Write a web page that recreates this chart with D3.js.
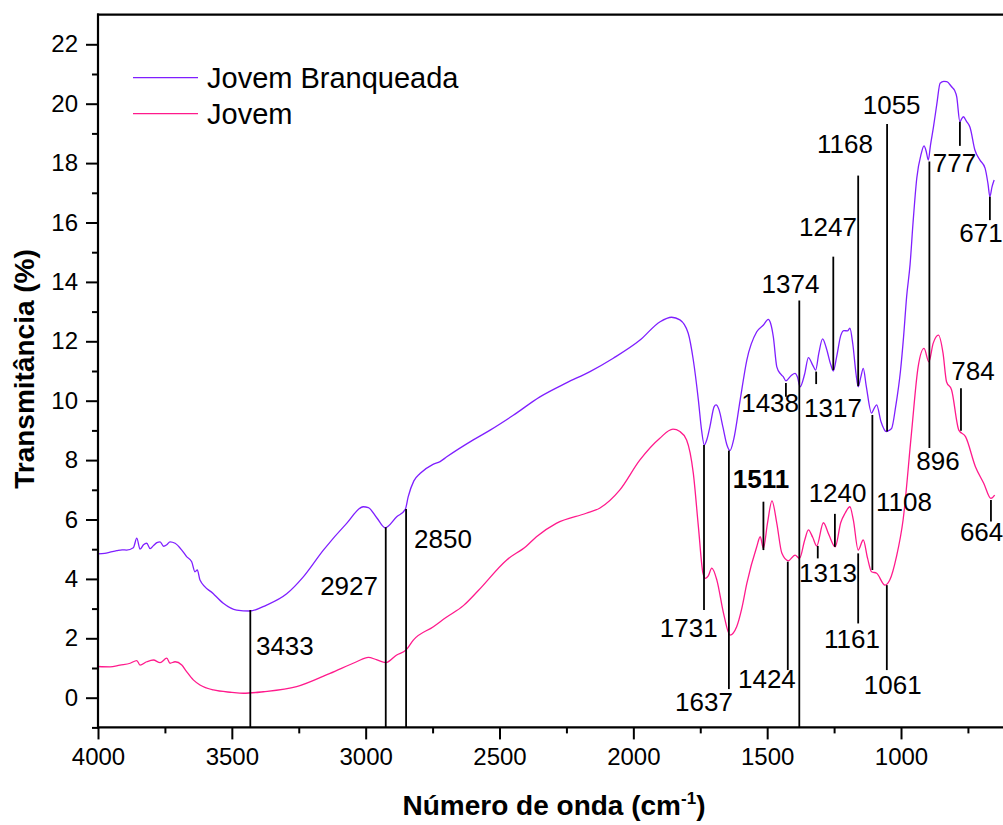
<!DOCTYPE html>
<html>
<head>
<meta charset="utf-8">
<script src="https://cdn.jsdelivr.net/npm/d3@7"></script>
<style>
  html, body { margin: 0; padding: 0; background: #fff; }
  svg { display: block; font-family: "Liberation Sans", Arial, sans-serif; }
</style>
</head>
<body>
<svg id="chart" width="1003" height="825"></svg>
<script>
// ---------------- DATA ----------------
const seriesNames = ["Jovem Branqueada", "Jovem"];

// Jovem Branqueada (purple)
const branqWn = [4000,3975,3955,3930,3910,3893,3868,3855,3843,3830,3818,3805,3793,3780,3768,3755,3743,3731,3712,3687,3669,3650,3638,3629,3619,
  3569,3532,3482,3433,3370,3295,3233,3158,3071,3009,2990,2958,2927,2884,2852,2841,2820,2797,2750,2722,2697,
  2598,2535,2450,2349,2250,2162,2075,1975,1900,1857,1826,1795,1776,1757,1745,1735,1725,1714,1698,1691,1680,
  1665,1650,1639,1625,1601,1576,1539,1514,1496,1487,1477,1464,1450,1440,1430,1410,1396,1387,1377,1360,1346,
  1330,1319,1307,1293,1280,1262,1253,1240,1225,1213,1200,1191,1180,1168,1160,1150,1141,1130,1110,1100,1091,
  1075,1055,1045,1035,1020,1002,990,979,966,955,941,925,914,906,898,890,879,866,854,840,829,811,800,792,780,
  773,767,755,742,724,705,686,675,668,660,652];
const branqT = [4.84,4.86,4.90,4.95,4.98,4.97,5.05,5.37,5.00,5.15,5.20,5.02,5.12,5.22,5.25,5.10,5.15,5.25,5.20,4.97,4.75,4.58,4.24,4.30,3.96,
  3.50,3.18,2.95,2.92,3.12,3.50,4.07,4.97,5.87,6.43,6.40,6.05,5.72,6.09,6.34,6.77,7.30,7.55,7.85,7.95,8.11,
  8.68,9.01,9.50,10.13,10.60,10.98,11.43,12.04,12.66,12.81,12.72,12.27,11.37,10.02,9.00,8.51,8.70,9.12,9.80,9.86,9.70,
  9.10,8.50,8.32,8.70,10.02,11.37,12.32,12.55,12.74,12.60,12.15,11.14,10.90,10.81,10.67,10.85,10.92,10.80,10.47,10.90,11.45,
  11.20,11.03,11.60,12.08,11.80,11.20,11.00,11.50,12.20,12.36,12.35,12.44,11.90,10.90,10.47,10.80,11.09,10.50,9.58,9.75,9.86,
  9.30,8.96,9.00,9.07,9.80,11.00,12.20,13.50,14.60,16.00,17.50,18.30,18.58,18.40,18.10,18.60,19.20,20.00,20.69,20.75,20.74,20.57,20.45,20.24,19.39,
  19.50,19.56,19.40,19.20,18.44,18.10,17.83,17.30,16.87,17.20,17.43];

// Jovem (pink)
const jovemWn = [4000,3955,3918,3880,3855,3843,3818,3793,3768,3743,3731,3712,3687,3669,3644,3619,
  3569,3500,3457,3382,3258,3133,3034,2990,2960,2925,2884,2849,2822,2747,2700,2635,2580,2473,2400,2362,2288,
  2176,2126,2051,1976,1902,1852,1826,1801,1776,1757,1740,1731,1720,1707,1688,1663,1639,1614,1595,1576,1539,
  1526,1514,1499,1482,1464,1445,1421,1396,1379,1360,1346,1330,1315,1290,1270,1246,1225,1209,1191,1178,1160,
  1141,1125,1110,1091,1060,1042,1017,992,961,936,914,896,880,860,843,830,811,784,759,722,691,664,650];
const jovemT = [1.05,1.04,1.10,1.16,1.25,1.10,1.21,1.27,1.18,1.33,1.16,1.21,1.10,0.88,0.60,0.43,
  0.26,0.18,0.15,0.20,0.37,0.82,1.21,1.36,1.28,1.18,1.44,1.61,1.94,2.39,2.70,3.10,3.60,4.64,5.10,5.42,5.87,
  6.21,6.38,6.99,8.00,8.73,9.04,8.96,8.68,7.56,5.76,4.20,4.02,4.10,4.36,3.96,2.84,2.11,2.39,3.00,3.85,5.08,
  5.42,5.03,5.87,6.63,5.87,4.86,4.61,4.80,4.69,5.30,5.65,5.40,5.11,5.89,5.50,5.08,5.90,6.21,6.43,5.98,4.97,
  5.31,4.70,4.24,4.19,3.79,3.96,4.75,6.00,8.90,11.14,11.76,11.31,11.93,12.21,11.60,10.64,10.36,9.01,8.79,7.78,7.22,6.71,6.82];

// Tick values
const xMajorTicks = [4000,3500,3000,2500,2000,1500,1000];
const xMinorTicks = [3750,3250,2750,2250,1750,1250,750];
const yMajorTicks = [0,2,4,6,8,10,12,14,16,18,20,22];
const yMinorTicks = [-1,1,3,5,7,9,11,13,15,17,19,21];

// Peak annotations: line position (cm-1), line top/bottom (%), label text, label anchor (cm-1, %)
const peakLabels = ["3433","2927","2850","1731","1637","1511","1438","1374","1424","1317","1247","1168",
  "1055","1108","896","777","671","784","664","1240","1313","1161","1061"];
const peakPos   = [3431,2925,2849,1736,1643,1514,1430,1380,1423,1317,1253,1160,1052,1107,894,780,668,776,664,1247,1311,1160,1053];
const peakTop   = [2.95,5.74,6.35,8.51,8.32,6.60,10.60,13.37,4.58,10.98,14.85,17.58,19.32,9.52,18.05,19.39,16.87,10.42,6.66,6.19,5.11,4.86,3.79];
const peakBot   = [-1,-1,-1,2.95,0.29,4.97,10.13,-1,0.93,10.56,11.03,10.49,8.96,4.30,8.41,18.58,16.08,8.99,5.93,5.08,4.69,2.50,0.93];
const labelWn   = [3410,2954,2819,1793,1736,1523,1489,1413,1501,1254,1273,1209,1035,989,862,800,782,731,780,1237,1273,1183,1031];
const labelT    = [1.44,3.46,5.04,2.04,-0.44,7.05,9.63,13.62,0.32,9.44,15.56,18.33,19.65,6.29,7.67,17.71,15.33,10.70,5.29,6.60,3.91,1.66,0.12];
const labelAnchor = ["start","end","start","middle","middle","middle","middle","middle","middle","middle","middle","middle",
  "middle","middle","middle","middle","start","middle","start","middle","middle","middle","middle"];
const labelBold = ["1511"];

// ---------------- CHART ----------------
const svg = d3.select("#chart");
const colors = ["#7f1fff", "#ff1a8c"];

const x = d3.scaleLinear().domain([4000, 600]).range([98, 98 + 3400 * 0.26767]);
const y = d3.scaleLinear().domain([-1, 23]).range([727.4, 14.6]);

const line = d3.line()
  .x(d => x(d[0]))
  .y(d => y(d[1]))
  .curve(d3.curveMonotoneX);

const branq = branqWn.map((w, i) => [w, branqT[i]]);
const jovem = jovemWn.map((w, i) => [w, jovemT[i]]);

svg.append("path").datum(jovem)
  .attr("d", line).attr("fill", "none")
  .attr("stroke", colors[1]).attr("stroke-width", 1.3);
svg.append("path").datum(branq)
  .attr("d", line).attr("fill", "none")
  .attr("stroke", colors[0]).attr("stroke-width", 1.3);

// annotation lines
const ann = svg.append("g");
peakLabels.forEach((lab, i) => {
  ann.append("line")
    .attr("x1", x(peakPos[i])).attr("x2", x(peakPos[i]))
    .attr("y1", y(peakTop[i])).attr("y2", y(peakBot[i]))
    .attr("stroke", "#000").attr("stroke-width", 1.8);
  ann.append("text")
    .attr("x", x(labelWn[i])).attr("y", y(labelT[i]))
    .attr("text-anchor", labelAnchor[i])
    .attr("font-size", 26)
    .attr("font-weight", labelBold.includes(lab) ? "bold" : "normal")
    .attr("fill", "#000")
    .text(lab);
});

// axes
const axisG = svg.append("g");
const yAxis = d3.axisLeft(y).tickValues(yMajorTicks).tickSize(12).tickPadding(8).tickFormat(d3.format("d"));
const yMinor = d3.axisLeft(y).tickValues(yMinorTicks).tickSize(6).tickFormat("");
const xAxis = d3.axisBottom(x).tickValues(xMajorTicks).tickSize(12).tickPadding(9).tickFormat(d3.format("d"));
const xMinor = d3.axisBottom(x).tickValues(xMinorTicks).tickSize(6).tickFormat("");

axisG.append("g").attr("transform", "translate(98,0)").call(yAxis);
axisG.append("g").attr("transform", "translate(98,0)").call(yMinor);
axisG.append("g").attr("transform", "translate(0,727.4)").call(xAxis);
axisG.append("g").attr("transform", "translate(0,727.4)").call(xMinor);

axisG.selectAll(".domain").remove();
axisG.selectAll(".tick line").attr("stroke", "#000").attr("stroke-width", 2);
axisG.selectAll(".tick text").attr("font-size", 24).attr("fill", "#000")
  .attr("font-family", "'Liberation Sans', Arial, sans-serif");

// spines
svg.append("line").attr("x1", 98).attr("x2", 98).attr("y1", 13.6).attr("y2", 728.4)
  .attr("stroke", "#000").attr("stroke-width", 2.2);
svg.append("line").attr("x1", 97).attr("x2", 1003).attr("y1", 727.4).attr("y2", 727.4)
  .attr("stroke", "#000").attr("stroke-width", 2.2);
svg.append("line").attr("x1", 97).attr("x2", 1003).attr("y1", 14.6).attr("y2", 14.6)
  .attr("stroke", "#000").attr("stroke-width", 2.2);

// legend
const legend = svg.append("g");
seriesNames.forEach((name, i) => {
  const ly = 77.7 + i * 36;
  legend.append("line").attr("x1", 133).attr("x2", 198).attr("y1", ly).attr("y2", ly)
    .attr("stroke", colors[i]).attr("stroke-width", 1.3);
  legend.append("text").attr("x", 207).attr("y", ly + 10)
    .attr("font-size", 29).attr("fill", "#000").text(name);
});

// axis titles
const xt = svg.append("text")
  .attr("x", 554).attr("y", 815)
  .attr("text-anchor", "middle")
  .attr("font-size", 28).attr("font-weight", "bold").attr("fill", "#000");
xt.append("tspan").text("Número de onda (cm");
xt.append("tspan").attr("dy", -11).attr("font-size", 17).text("-1");
xt.append("tspan").attr("dy", 11).text(")");

svg.append("text")
  .attr("transform", "translate(34,369) rotate(-90)")
  .attr("text-anchor", "middle")
  .attr("font-size", 28).attr("font-weight", "bold").attr("fill", "#000")
  .text("Transmitância (%)");
</script>
</body>
</html>
